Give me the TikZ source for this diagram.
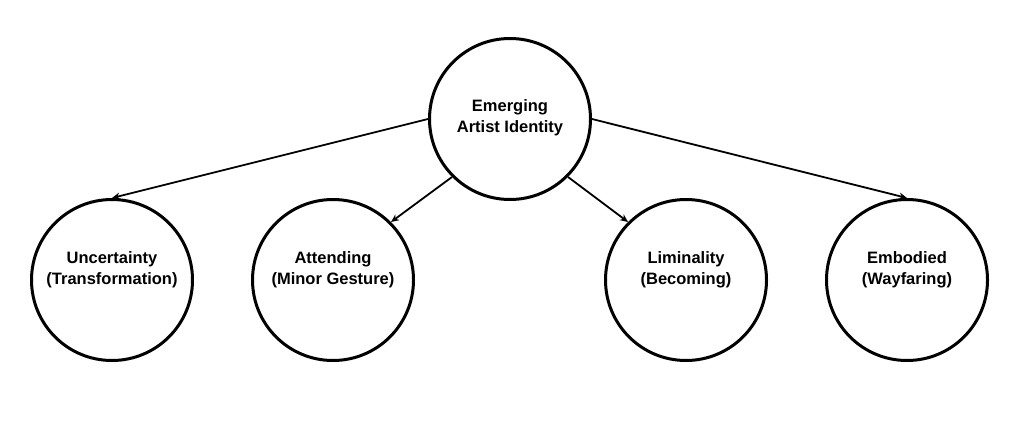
\documentclass[tikz,border=0pt]{standalone}
\usepackage{fontspec}
\setmainfont{Liberation Sans}
\usetikzlibrary{arrows.meta}

\begin{document}
\begin{tikzpicture}[
    x=1pt, y=-1pt,
    theme/.style={circle, draw=black, line width=3pt, fill=white,
        minimum size=161pt, inner sep=0pt},
    lbl/.style={font=\bfseries\fontsize{16.5}{21}\selectfont, align=center},
    edge/.style={line width=1.8pt, -{Stealth[length=8pt, width=7pt]}}
]
    \useasboundingbox (0,0) rectangle (1024,444);
    \node[theme, label={[lbl, yshift=1pt]center:Emerging\\Artist Identity}] (core) at (510,119) {};
    \node[theme, label={[lbl, yshift=10pt]center:Uncertainty\\(Transformation)}] (unc) at (112,280) {};
    \node[theme, label={[lbl, yshift=10pt]center:Attending\\(Minor Gesture)}] (att) at (333,280) {};
    \node[theme, label={[lbl, yshift=10pt]center:Liminality\\(Becoming)}] (lim) at (686,280) {};
    \node[theme, label={[lbl, yshift=10pt]center:Embodied\\(Wayfaring)}] (emb) at (907,280) {};
    \draw[edge] (core.west) -- (unc.north);
    \draw[edge] (core.south west) -- (att.north east);
    \draw[edge] (core.south east) -- (lim.north west);
    \draw[edge] (core.east) -- (emb.north);
\end{tikzpicture}
\end{document}
